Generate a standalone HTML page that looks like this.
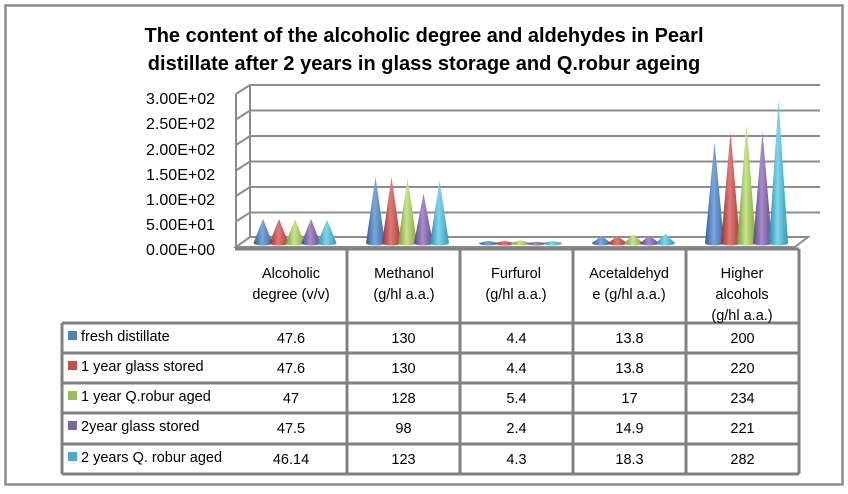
<!DOCTYPE html>
<html><head><meta charset="utf-8"><style>
body{margin:0;background:#fff;}
svg text{font-family:"Liberation Sans",sans-serif;}
</style></head><body>
<svg id="s" width="848" height="489" xmlns="http://www.w3.org/2000/svg">
<defs>
<linearGradient id="g0" x1="0" x2="1"><stop offset="0" stop-color="#2f5f96"/><stop offset="0.45" stop-color="#7aa6dc"/><stop offset="1" stop-color="#3b6aa5"/></linearGradient>
<linearGradient id="g1" x1="0" x2="1"><stop offset="0" stop-color="#9a302d"/><stop offset="0.45" stop-color="#e07a77"/><stop offset="1" stop-color="#a73c39"/></linearGradient>
<linearGradient id="g2" x1="0" x2="1"><stop offset="0" stop-color="#76963a"/><stop offset="0.45" stop-color="#c8e58a"/><stop offset="1" stop-color="#84a444"/></linearGradient>
<linearGradient id="g3" x1="0" x2="1"><stop offset="0" stop-color="#5c4381"/><stop offset="0.45" stop-color="#a68ccb"/><stop offset="1" stop-color="#684d8d"/></linearGradient>
<linearGradient id="g4" x1="0" x2="1"><stop offset="0" stop-color="#2b8aa6"/><stop offset="0.45" stop-color="#7fd6ec"/><stop offset="1" stop-color="#3598b4"/></linearGradient>
</defs>
<rect x="5.5" y="5.5" width="837" height="479" fill="#fff" stroke="#8c8c8c" stroke-width="2.5"/>
<text x="424" y="42" text-anchor="middle" font-size="20" font-weight="bold">The content of the alcoholic degree and aldehydes in Pearl</text>
<text x="424" y="70" text-anchor="middle" font-size="20" font-weight="bold">distillate after 2 years in glass storage and Q.robur ageing</text>
<g font-size="16" text-anchor="end" fill="#000">
<text x="215" y="104">3.00E+02</text><text x="215" y="129">2.50E+02</text>
<text x="215" y="155">2.00E+02</text><text x="215" y="180">1.50E+02</text>
<text x="215" y="205">1.00E+02</text><text x="215" y="230">5.00E+01</text>
<text x="215" y="255">0.00E+00</text>
</g>
<g id="grid" stroke="#8c8c8c" stroke-width="2" fill="none"></g>
<g id="cones"></g>
<g id="tbl" stroke="#808080" stroke-width="3" fill="none"></g>
<g font-size="14.5" text-anchor="middle" fill="#000">
<text x="291" y="278">Alcoholic</text><text x="291" y="299">degree (v/v)</text>
<text x="404" y="278">Methanol</text><text x="404" y="299">(g/hl a.a.)</text>
<text x="516" y="278">Furfurol</text><text x="516" y="299">(g/hl a.a.)</text>
<text x="629" y="278">Acetaldehyd</text><text x="629" y="299">e (g/hl a.a.)</text>
<text x="742" y="278">Higher</text><text x="742" y="299">alcohols</text><text x="742" y="320">(g/hl a.a.)</text>
</g>
<g id="rows" font-size="14.5" fill="#000"></g>
</svg>
<script>
var ns="http://www.w3.org/2000/svg";
function el(p,t,a,txt){var e=document.createElementNS(ns,t);for(var k in a)e.setAttribute(k,a[k]);if(txt!=null)e.textContent=txt;document.getElementById(p).appendChild(e);return e;}
var ys=[85,110.5,136,161.5,187,212.5];
ys.forEach(function(y){el("grid","polyline",{points:"236,"+(y+9)+" 250,"+y+" 820,"+y});});
el("grid","polyline",{points:"236,94 236,247"});
el("grid","polyline",{points:"250,85 250,237"});
el("grid","polygon",{points:"236,247 250,237 808,237 795,247"});
var data=[[47.6,130,4.4,13.8,200],[47.6,130,4.4,13.8,220],[47,128,5.4,17,234],[47.5,98,2.4,14.9,221],[46.14,123,4.3,18.3,282]];
var cols=[235,347,460,573,686,799];
var base=243,sc=0.507;
for(var c=0;c<5;c++){var cx=(cols[c]+cols[c+1])/2+4;
 for(var s=0;s<5;s++){var x=cx+(s-2)*16,v=data[s][c],h=v*sc,w=9.5;
  el("cones","path",{d:"M"+(x-w)+","+base+" L"+x+","+(base-h)+" L"+(x+w)+","+base+" A"+w+",2.5 0 0 1 "+(x-w)+","+base+"Z",fill:"url(#g"+s+")"});}}
var rys=[249,323,353,383,413,444,474];
for(var i=1;i<cols.length;i++)el("tbl","line",{x1:cols[i],y1:249,x2:cols[i],y2:474});
el("tbl","line",{x1:62,y1:323,x2:62,y2:474});
for(var i=0;i<rys.length;i++)el("tbl","line",{x1:i==0?235:62,y1:rys[i],x2:799,y2:rys[i]});
var names=["fresh distillate","1 year glass stored","1 year Q.robur aged","2year glass stored","2 years Q. robur aged"];
var cl=["#4F81BD","#C0504D","#9BBB59","#8064A2","#4BACC6"];
for(var r=0;r<5;r++){var y=rys[r+1]+20;
 el("rows","rect",{x:68,y:y-12,width:9,height:9,fill:cl[r]});
 el("rows","text",{x:81,y:y-2},names[r]);
 for(var c=0;c<5;c++)el("rows","text",{x:(cols[c]+cols[c+1])/2,y:y,"text-anchor":"middle"},String(data[r][c]));}
</script>
</body></html>
